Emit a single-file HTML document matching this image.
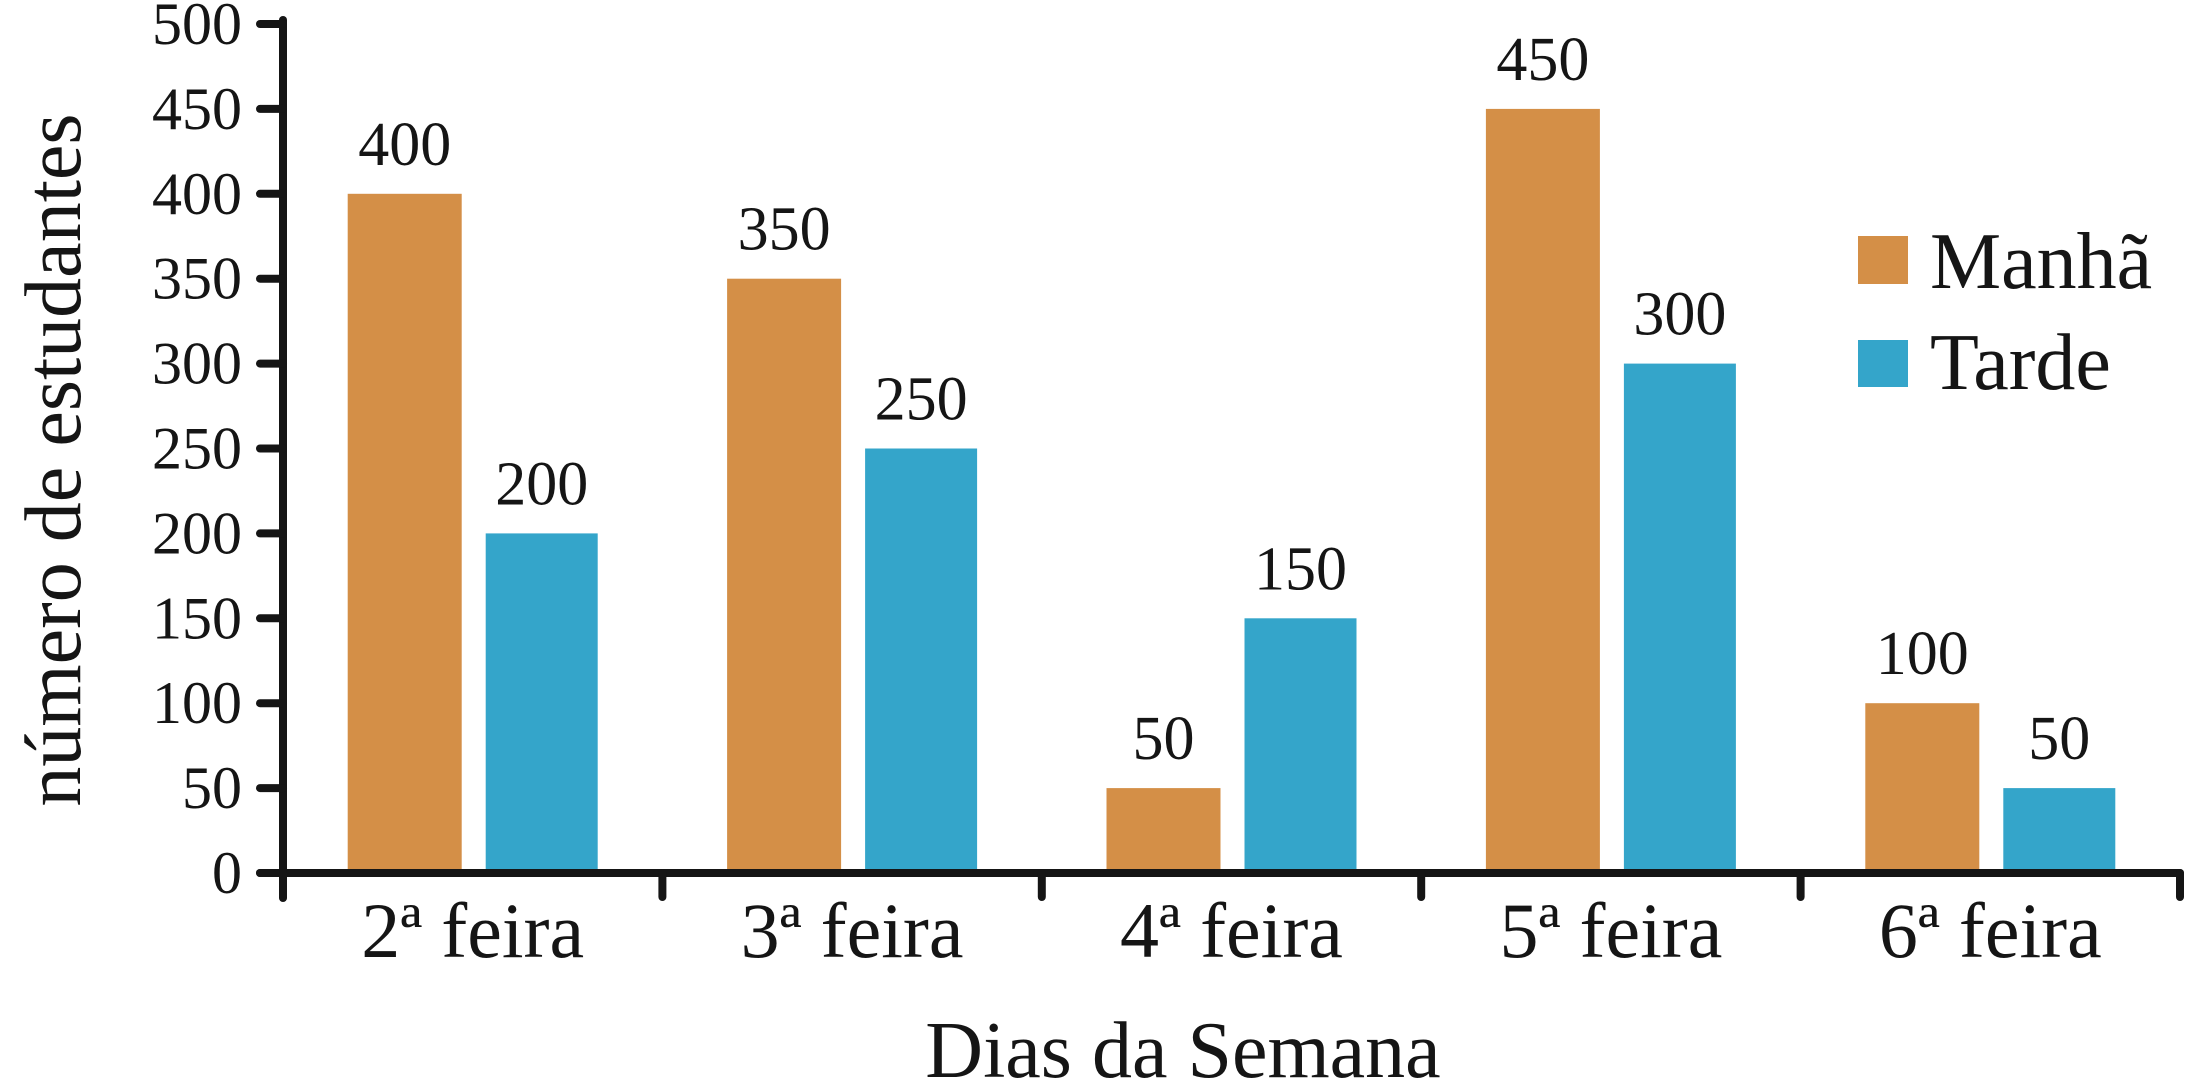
<!DOCTYPE html>
<html><head><meta charset="utf-8"><style>
html,body{margin:0;padding:0;background:#fff;}
svg, svg text{font-family:"Liberation Serif","DejaVu Serif",serif;}
</style></head><body>
<svg id="chart" width="2187" height="1084" viewBox="0 0 2187 1084" xmlns="http://www.w3.org/2000/svg" font-family="Liberation Serif, DejaVu Serif, serif"></svg>
<script>
const categories = ["2ª feira","3ª feira","4ª feira","5ª feira","6ª feira"];
const manha = [400,350,50,450,100];
const tarde = [200,250,150,300,50];
const yTicks = [0,50,100,150,200,250,300,350,400,450,500];

const NS = "http://www.w3.org/2000/svg";
const svg = document.getElementById("chart");
const x0 = 283, x1 = 2180, y0 = 873, yTop = 24, yMax = 500;
const band = (x1 - x0) / categories.length;
const FF = "Liberation Serif, DejaVu Serif, serif";
function y(v){ return y0 - (v / yMax) * (y0 - yTop); }
function cx(i){ return x0 + band * (i + 0.5); }
function mk(tag, attrs, text){
  const e = document.createElementNS(NS, tag);
  for (const k in attrs) e.setAttribute(k, attrs[k]);
  if (text !== undefined) { e.textContent = text; e.setAttribute("font-family", FF); }
  svg.appendChild(e);
  return e;
}
const ink = "#151515", orange = "#D48F47", blue = "#34A5CA";

categories.forEach((c, i) => {
  const m = mk("rect", {x: cx(i) - 125, y: y(manha[i]), width: 114, height: y0 - y(manha[i]), fill: orange});
  
  
  const t = mk("rect", {x: cx(i) + 13, y: y(tarde[i]), width: 112, height: y0 - y(tarde[i]), fill: blue});
  
  
  const ml = mk("text", {x: cx(i) - 68, y: y(manha[i]) - 29, "font-size": 62, "text-anchor": "middle", fill: ink}, manha[i]);
  
  
  const tl = mk("text", {x: cx(i) + 69, y: y(tarde[i]) - 29, "font-size": 62, "text-anchor": "middle", fill: ink}, tarde[i]);
  
  
  const cl = mk("text", {x: cx(i), y: 957, "font-size": 78, "text-anchor": "middle", fill: ink}, c);
  
  
});

const ya = mk("line", {x1: x0, y1: yTop - 4, x2: x0, y2: y0 + 25, stroke: ink, "stroke-width": 8, "stroke-linecap": "round"});


yTicks.forEach(v => {
  const tk = mk("line", {x1: 260, y1: y(v), x2: x0, y2: y(v), stroke: ink, "stroke-width": 8, "stroke-linecap": "round"});
  
  
  const lb = mk("text", {x: 242, y: y(v) + 20, "font-size": 60, "text-anchor": "end", fill: ink}, v);
  
  
});
const xa = mk("line", {x1: 260, y1: y0, x2: x1, y2: y0, stroke: ink, "stroke-width": 8, "stroke-linecap": "round"});


for (let i = 0; i <= categories.length; i++) {
  const tk = mk("line", {x1: x0 + band * i, y1: y0, x2: x0 + band * i, y2: y0 + 24, stroke: ink, "stroke-width": 8, "stroke-linecap": "round"});
  
  
}
const xt = mk("text", {x: 1183, y: 1077, "font-size": 80, "text-anchor": "middle", fill: ink}, "Dias da Semana");


const yt = mk("text", {x: 0, y: 0, "font-size": 80, "text-anchor": "middle", fill: ink, transform: "translate(80,460) rotate(-90)"}, "número de estudantes");


const s1 = mk("rect", {x: 1858, y: 236, width: 50, height: 48, fill: orange});


const l1 = mk("text", {x: 1930, y: 288, "font-size": 80, fill: ink}, "Manhã");


const s2 = mk("rect", {x: 1858, y: 340, width: 50, height: 47, fill: blue});


const l2 = mk("text", {x: 1930, y: 389, "font-size": 80, fill: ink}, "Tarde");


</script>
</body></html>
